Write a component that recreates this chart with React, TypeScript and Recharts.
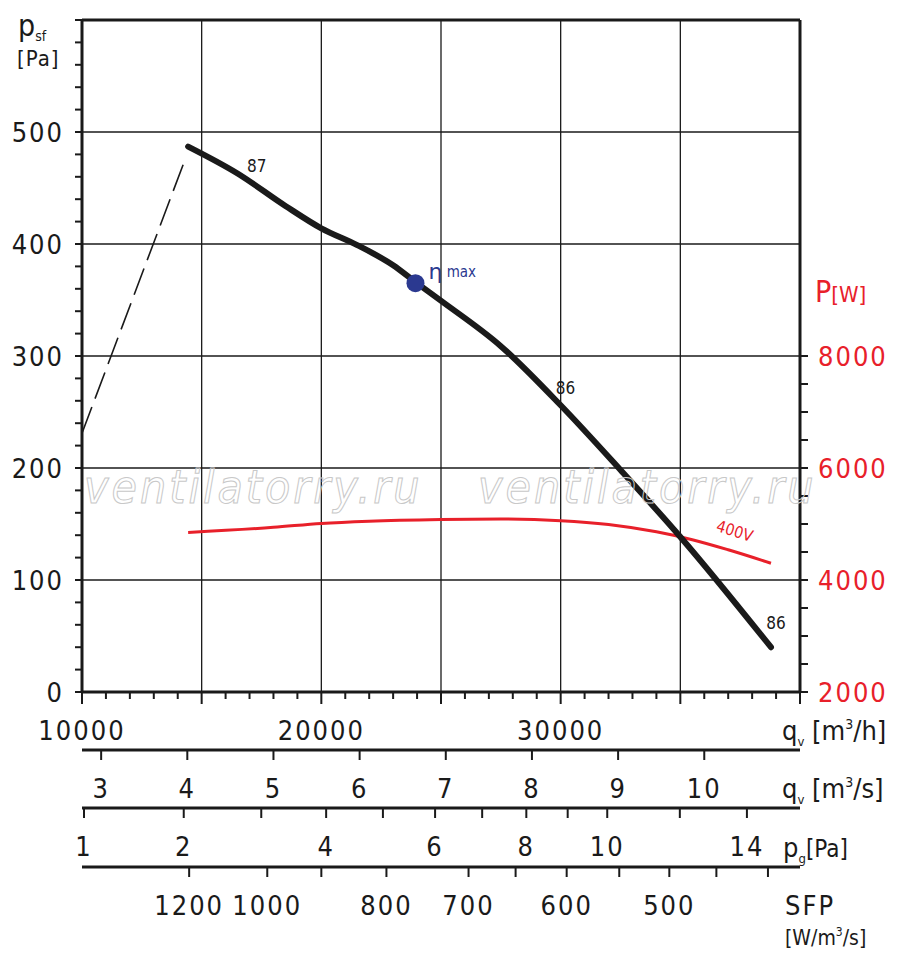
import React from "react";
import { ComposedChart, Line, XAxis, YAxis, ReferenceLine, ReferenceDot } from "recharts";

const FONT = "'Liberation Sans Narrow', 'DejaVu Sans Condensed', 'Roboto', sans-serif";

// fan curve: q [m3/h], psf [Pa]
const pressureCurve = [
  { q: 14435, p: 487 }, { q: 16500, p: 463 }, { q: 18500, p: 434 }, { q: 20000, p: 414 },
  { q: 21500, p: 399 }, { q: 23000, p: 381 }, { q: 23933, p: 366 }, { q: 25021, p: 349 },
  { q: 27490, p: 309 }, { q: 30000, p: 256 }, { q: 32510, p: 198 }, { q: 35021, p: 138 },
  { q: 38787, p: 40 },
];
const dashedCurve = [{ q: 10000, p: 231 }, { q: 14351, p: 478 }];
// power curve: q [m3/h], P [W]
const powerCurve = [
  { q: 14435, w: 4850 }, { q: 18000, w: 4940 }, { q: 20000, w: 5010 }, { q: 22000, w: 5050 },
  { q: 25000, w: 5080 }, { q: 27500, w: 5090 }, { q: 30000, w: 5060 }, { q: 32000, w: 4990 },
  { q: 34000, w: 4860 }, { q: 35500, w: 4720 }, { q: 37000, w: 4540 }, { q: 38787, w: 4300 },
];
const etaMax = { q: 23933, p: 365 };
const curveLabels = [
  { q: 17300, p: 464, text: "87" },
  { q: 30200, p: 266, text: "86" },
  { q: 39000, p: 56, text: "86" },
];

const qTicks = Array.from({ length: 31 }, (_, i) => 10000 + i * 1000);
const qLabels = [10000, 20000, 30000];
const m3sTicks = [3, 4, 5, 6, 7, 8, 9, 10];
const pgTicks = [
  { q: 10084, l: "1" }, { q: 14251, l: "2" }, { q: 17490, l: "" }, { q: 20201, l: "4" },
  { q: 22573, l: "" }, { q: 24753, l: "6" }, { q: 26720, l: "" }, { q: 28565, l: "8" },
  { q: 30293, l: "" }, { q: 31946, l: "10" }, { q: 34979, l: "" }, { q: 37782, l: "14" },
];
const sfpTicks = [
  { q: 14477, l: "1200" }, { q: 17741, l: "1000" }, { q: 20000, l: "" }, { q: 22720, l: "800" },
  { q: 26151, l: "700" }, { q: 28117, l: "" }, { q: 30251, l: "600" }, { q: 32448, l: "" },
  { q: 34540, l: "500" }, { q: 36506, l: "" }, { q: 38661, l: "" },
];
const leftTicks = Array.from({ length: 31 }, (_, i) => i * 20);
const leftLabels = [0, 100, 200, 300, 400, 500];
const rightTicks = Array.from({ length: 13 }, (_, i) => 2000 + i * 500);
const rightLabels = [2000, 4000, 6000, 8000];
const gridY = [100, 200, 300, 400, 500];
const gridX = [15000, 20000, 25000, 30000, 35000];

const txt = { fontFamily: FONT, fontSize: 27, fill: "#1a1a1a", letterSpacing: 2 } as const;

const MainXTick = (props: any) => {
  const { x, y, payload } = props;
  const v = payload.value;
  const major = v % 5000 === 0;
  return (
    <g>
      <line x1={x} y1={y} x2={x} y2={y + (major ? 12 : 7)} stroke="#1a1a1a" strokeWidth={2} />
      {qLabels.includes(v) && <text x={x} y={y + 48} textAnchor="middle" {...txt}>{v}</text>}
    </g>
  );
};
const makeListTick = (list: { q: number; l: string }[]) => (props: any) => {
  const { x, y, payload } = props;
  const item = list.find((t) => Math.abs(t.q - payload.value) < 1);
  return (
    <g>
      <line x1={x} y1={y} x2={x} y2={y + 10} stroke="#1a1a1a" strokeWidth={2} />
      {item && item.l && <text x={x} y={y + 48} textAnchor="middle" {...txt}>{item.l}</text>}
    </g>
  );
};
const m3sList = m3sTicks.map((v) => ({ q: v * 3600, l: String(v) }));
const M3sTick = makeListTick(m3sList);
const PgTick = makeListTick(pgTicks);
const SfpTick = makeListTick(sfpTicks);

const LeftTick = (props: any) => {
  const { x, y, payload } = props;
  const v = payload.value;
  return (
    <g>
      <line x1={x} y1={y} x2={x - 7} y2={y} stroke="#1a1a1a" strokeWidth={2} />
      {leftLabels.includes(v) && <text x={x - 18} y={y + 10} textAnchor="end" {...txt}>{v}</text>}
    </g>
  );
};
const RightTick = (props: any) => {
  const { x, y, payload } = props;
  const v = payload.value;
  return (
    <g>
      <line x1={x} y1={y} x2={x + 8} y2={y} stroke="#1a1a1a" strokeWidth={2} />
      {rightLabels.includes(v) && <text x={x + 18} y={y + 10} textAnchor="start" {...txt} fill="#e8202a">{v}</text>}
    </g>
  );
};

const CurveLabel = (text: string, color = "#1a1a1a") => (props: any) => {
  const { viewBox } = props;
  return <text x={viewBox.x} y={viewBox.y} textAnchor="middle" fontFamily={FONT} fontSize={17} fill={color}>{text}</text>;
};
const EtaLabel = (props: any) => {
  const { viewBox } = props;
  const cx = viewBox.x + viewBox.width / 2;
  const cy = viewBox.y + viewBox.height / 2;
  return (
    <text x={cx + 13} y={cy - 4} fontFamily="'DejaVu Sans', sans-serif" fill="#2b3990">
      <tspan fontSize={22}>η</tspan><tspan fontSize={15} dy={-2} fontFamily={FONT}> max</tspan>
    </text>
  );
};
const VoltLabel = (props: any) => {
  const { viewBox } = props;
  return (
    <text x={viewBox.x} y={viewBox.y} textAnchor="middle" fontFamily={FONT} fontSize={16} fill="#e8202a"
      transform={`rotate(17 ${viewBox.x} ${viewBox.y})`}>400V</text>
  );
};

const axisLine = { stroke: "#1a1a1a", strokeWidth: 3 };

export default function App() {
  return (
    <div style={{ position: "absolute", left: 0, top: 0, width: 900, height: 970, background: "#fff" }}>
      <ComposedChart width={900} height={970} margin={{ top: 20, right: 0, left: 0, bottom: 0 }}>
        <XAxis xAxisId="a" dataKey="q" type="number" domain={[10000, 40000]} ticks={qTicks} interval={0}
          height={58} tickSize={0} tickMargin={0} tickLine={false} tick={<MainXTick />}
          axisLine={axisLine} allowDataOverflow />
        <XAxis xAxisId="b" dataKey="q" type="number" domain={[10000, 40000]} ticks={m3sList.map((t) => t.q)} interval={0}
          height={58} tickSize={0} tickMargin={0} tickLine={false} tick={<M3sTick />}
          axisLine={axisLine} allowDataOverflow />
        <XAxis xAxisId="c" dataKey="q" type="number" domain={[10000, 40000]} ticks={pgTicks.map((t) => t.q)} interval={0}
          height={59} tickSize={0} tickMargin={0} tickLine={false} tick={<PgTick />}
          axisLine={axisLine} allowDataOverflow />
        <XAxis xAxisId="d" dataKey="q" type="number" domain={[10000, 40000]} ticks={sfpTicks.map((t) => t.q)} interval={0}
          height={103} tickSize={0} tickMargin={0} tickLine={false} tick={<SfpTick />}
          axisLine={axisLine} allowDataOverflow />
        <YAxis yAxisId="L" type="number" domain={[0, 600]} ticks={leftTicks} interval={0} width={82}
          tickSize={0} tickMargin={0} tickLine={false} tick={<LeftTick />}
          axisLine={axisLine} allowDataOverflow />
        <YAxis yAxisId="R" orientation="right" type="number" domain={[2000, 14000]} ticks={rightTicks} interval={0} width={100}
          tickSize={0} tickMargin={0} tickLine={false} tick={<RightTick />}
          axisLine={axisLine} allowDataOverflow />

        {gridY.map((v) => (
          <ReferenceLine key={"gy" + v} xAxisId="a" yAxisId="L" y={v} stroke="#1a1a1a" strokeWidth={1.3} />
        ))}
        {gridX.map((v) => (
          <ReferenceLine key={"gx" + v} xAxisId="a" yAxisId="L" x={v} stroke="#1a1a1a" strokeWidth={1.3} />
        ))}
        <ReferenceLine xAxisId="a" yAxisId="L" y={600} stroke="#1a1a1a" strokeWidth={3} />

        {["b", "c", "d"].map((id) => (
          <Line key={"h" + id} xAxisId={id} yAxisId="L" data={pressureCurve} dataKey="p" stroke="none"
            dot={false} activeDot={false} legendType="none" isAnimationActive={false} />
        ))}

        <Line xAxisId="a" yAxisId="L" data={dashedCurve} dataKey="p" type="linear" stroke="#1a1a1a"
          strokeWidth={1.6} strokeDasharray="28 9" dot={false} isAnimationActive={false} />
        <Line xAxisId="a" yAxisId="R" data={powerCurve} dataKey="w" type="monotone" stroke="#e8202a"
          strokeWidth={3} dot={false} isAnimationActive={false} />
        <Line xAxisId="a" yAxisId="L" data={pressureCurve} dataKey="p" type="monotone" stroke="#1a1a1a"
          strokeWidth={6} strokeLinecap="round" dot={false} isAnimationActive={false} />

        <ReferenceDot xAxisId="a" yAxisId="L" x={etaMax.q} y={etaMax.p} r={9} fill="#2b3990" stroke="none" label={<EtaLabel />} />
        {curveLabels.map((c, i) => (
          <ReferenceDot key={"cl" + i} xAxisId="a" yAxisId="L" x={c.q} y={c.p} r={0} stroke="none" fill="none"
            label={CurveLabel(c.text)} />
        ))}
        <ReferenceDot xAxisId="a" yAxisId="R" x={37200} y={4780} r={0} stroke="none" fill="none" label={<VoltLabel />} />
      </ComposedChart>

      <svg width={900} height={970} style={{ position: "absolute", left: 0, top: 0, pointerEvents: "none" }}>
        <g fontFamily={FONT} fill="none" stroke="#c8c8c8" strokeWidth={1} fontSize={46} fontStyle="italic" letterSpacing={3}>
          <text x={84} y={503}>ventilatorry.ru</text>
          <text x={478} y={503}>ventilatorry.ru</text>
        </g>
        <g fontFamily={FONT} fill="#1a1a1a">
          <text x={18} y={36} fontSize={30}>p<tspan fontSize={14} dy={5}>sf</tspan></text>
          <text x={17} y={66} fontSize={22} letterSpacing={1}>[Pa]</text>
          <text x={815} y={302} fontSize={30} fill="#e8202a">P<tspan fontSize={22}>[W]</tspan></text>
          <text x={782} y={740} fontSize={27}>q<tspan fontSize={13} dy={6}>v</tspan><tspan dy={-6}> [m</tspan><tspan fontSize={14} dy={-11}>3</tspan><tspan dy={11}>/h]</tspan></text>
          <text x={782} y={798} fontSize={27}>q<tspan fontSize={13} dy={6}>v</tspan><tspan dy={-6}> [m</tspan><tspan fontSize={14} dy={-11}>3</tspan><tspan dy={11}>/s]</tspan></text>
          <text x={783} y={857} fontSize={27}>p<tspan fontSize={13} dy={6}>g</tspan><tspan dy={-6} fontSize={24}>[Pa]</tspan></text>
          <text x={785} y={915} fontSize={27} letterSpacing={2}>SFP</text>
          <text x={785} y={945} fontSize={21}>[W/m<tspan fontSize={12} dy={-9}>3</tspan><tspan dy={9}>/s]</tspan></text>
        </g>
      </svg>
    </div>
  );
}
